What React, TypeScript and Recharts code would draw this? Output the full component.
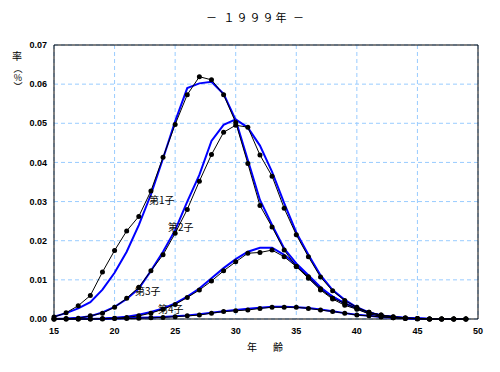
import React from "react";
import { LineChart, Line, XAxis, YAxis, CartesianGrid, ReferenceArea } from "recharts";

// ages on the x axis
const ages = [15, 16, 17, 18, 19, 20, 21, 22, 23, 24, 25, 26, 27, 28, 29, 30, 31, 32, 33, 34, 35, 36, 37, 38, 39, 40, 41, 42, 43, 44, 45, 46, 47, 48, 49];

// observed rates (black lines with dots)
const first = [0.0005, 0.0016, 0.0034, 0.006, 0.012, 0.0175, 0.0225, 0.0262, 0.0327, 0.0413, 0.0497, 0.0573, 0.0619, 0.0611, 0.0573, 0.0502, 0.0397, 0.029, 0.0235, 0.0176, 0.0134, 0.0104, 0.0074, 0.0051, 0.0035, 0.0025, 0.0013, 0.0007, 0.0003, 0.0001, 0, 0, 0, 0, 0];
const second = [0, 0.0001, 0.0002, 0.0008, 0.0015, 0.003, 0.0053, 0.0081, 0.0123, 0.0164, 0.0219, 0.028, 0.0352, 0.042, 0.0477, 0.0495, 0.049, 0.0419, 0.0365, 0.0283, 0.0215, 0.0159, 0.0107, 0.0072, 0.0047, 0.003, 0.0017, 0.001, 0.0006, 0.0003, 0.0001, 0, 0, 0, 0];
const third = [0, 0, 0, 0, 0.0001, 0.0002, 0.0004, 0.0008, 0.0015, 0.0025, 0.0037, 0.0055, 0.0074, 0.0097, 0.0123, 0.0146, 0.0168, 0.017, 0.0176, 0.0159, 0.0134, 0.0108, 0.0077, 0.0053, 0.004, 0.0027, 0.0017, 0.001, 0.0005, 0.0002, 0.0001, 0, 0, 0, 0];
const fourth = [0, 0, 0, 0, 0, 0.0001, 0.0001, 0.0002, 0.0003, 0.0004, 0.0006, 0.0008, 0.001, 0.0015, 0.0019, 0.0021, 0.0023, 0.0027, 0.003, 0.003, 0.003, 0.0027, 0.0023, 0.0019, 0.0015, 0.001, 0.0008, 0.0005, 0.0003, 0.0002, 0.0001, 0, 0, 0, 0];

// fitted rates (blue lines)
const firstFit = [0.0006, 0.0015, 0.0027, 0.0043, 0.0075, 0.0118, 0.0172, 0.024, 0.0318, 0.041, 0.0505, 0.059, 0.0602, 0.0606, 0.0575, 0.0508, 0.0406, 0.0304, 0.024, 0.018, 0.0142, 0.0112, 0.0081, 0.0057, 0.004, 0.0027, 0.0016, 0.0009, 0.0005, 0.0002, 0.0001, 0, 0, 0, 0];
const secondFit = [0, 0.0001, 0.0003, 0.0007, 0.0017, 0.0031, 0.0051, 0.0078, 0.0123, 0.0172, 0.0227, 0.03, 0.0368, 0.0455, 0.0496, 0.051, 0.0489, 0.0443, 0.0376, 0.0296, 0.0221, 0.0164, 0.0112, 0.0074, 0.0049, 0.003, 0.0017, 0.0009, 0.0005, 0.0003, 0.0001, 0, 0, 0, 0];
const thirdFit = [0, 0, 0, 0, 0.0001, 0.0003, 0.0006, 0.0011, 0.0018, 0.0027, 0.004, 0.0057, 0.0078, 0.0104, 0.013, 0.0153, 0.0172, 0.0182, 0.0182, 0.0164, 0.0138, 0.0107, 0.0078, 0.0057, 0.004, 0.0027, 0.0016, 0.0009, 0.0005, 0.0002, 0.0001, 0, 0, 0, 0];
const fourthFit = [0, 0, 0, 0, 0, 0.0001, 0.0002, 0.0003, 0.0004, 0.0005, 0.0007, 0.0009, 0.0012, 0.0016, 0.002, 0.0023, 0.0026, 0.0029, 0.0031, 0.0031, 0.003, 0.0028, 0.0024, 0.002, 0.0015, 0.0011, 0.0008, 0.0005, 0.0003, 0.0002, 0.0001, 0, 0, 0, 0];

const xTicks = [15, 20, 25, 30, 35, 40, 45, 50];
const yTicks = [0, 0.01, 0.02, 0.03, 0.04, 0.05, 0.06, 0.07];

const rows = ages.map((age, i) => ({
  age,
  first: first[i],
  second: second[i],
  third: third[i],
  fourth: fourth[i],
  firstFit: firstFit[i],
  secondFit: secondFit[i],
  thirdFit: thirdFit[i],
  fourthFit: fourthFit[i],
}));

const JP = '"Noto Sans CJK JP", sans-serif';
const tickStyle = { fontSize: 9, fill: "#000", fontWeight: "bold", fontFamily: '"Liberation Sans", sans-serif' };

export default function App() {
  return (
    <div style={{ position: "absolute", left: 0, top: 0, width: 500, height: 372, background: "#fff" }}>
      <LineChart width={500} height={372} data={rows} margin={{ top: 45, right: 22, bottom: 23, left: 10 }}>
        <CartesianGrid stroke="#99ccff" strokeDasharray="4 3" />
        <XAxis
          dataKey="age"
          type="number"
          domain={[15, 50]}
          ticks={xTicks}
          interval={0}
          height={30}
          tickLine={false}
          axisLine={false}
          tickSize={4}
          tickMargin={5}
          tick={tickStyle}
        />
        <YAxis
          type="number"
          domain={[0, 0.07]}
          ticks={yTicks}
          interval={0}
          width={44}
          tickLine={false}
          axisLine={false}
          tickSize={4}
          tickMargin={3}
          tick={tickStyle}
          tickFormatter={(v: number) => v.toFixed(2)}
        />
        <ReferenceArea x1={15} x2={50} y1={0} y2={0.07} fill="none" stroke="#000" strokeWidth={1} />
        {["firstFit", "secondFit", "thirdFit", "fourthFit"].map((k) => (
          <Line key={k} dataKey={k} stroke="#0000ff" strokeWidth={2} dot={false} isAnimationActive={false} />
        ))}
        {["first", "second", "third", "fourth"].map((k) => (
          <Line
            key={k}
            dataKey={k}
            stroke="#000"
            strokeWidth={1}
            dot={{ r: 2.5, fill: "#000", stroke: "#000", strokeWidth: 0 }}
            isAnimationActive={false}
          />
        ))}
      </LineChart>
      <svg width={500} height={372} style={{ position: "absolute", left: 0, top: 0, pointerEvents: "none" }}>
        <g fontFamily={JP} fill="#000">
          <text x={256} y={17} textAnchor="middle" dominantBaseline="central" fontSize={11} letterSpacing={2}>
            － １９９９年 －
          </text>
          <text x={17} y={55} textAnchor="middle" dominantBaseline="central" fontSize={10}>率</text>
          <text
            x={18}
            y={64}
            fontSize={9}
            style={{ writingMode: "vertical-rl", textOrientation: "upright" } as React.CSSProperties}
          >
            （%）
          </text>
          <text x={252} y={346} textAnchor="middle" dominantBaseline="central" fontSize={10}>年</text>
          <text x={278} y={346} textAnchor="middle" dominantBaseline="central" fontSize={10}>齢</text>
          <text x={149} y={199} dominantBaseline="central" fontSize={10}>第1子</text>
          <text x={168} y={226} dominantBaseline="central" fontSize={10}>第2子</text>
          <text x={135} y={290} dominantBaseline="central" fontSize={10}>第3子</text>
          <text x={158} y={308} dominantBaseline="central" fontSize={10}>第4子</text>
        </g>
      </svg>
    </div>
  );
}
